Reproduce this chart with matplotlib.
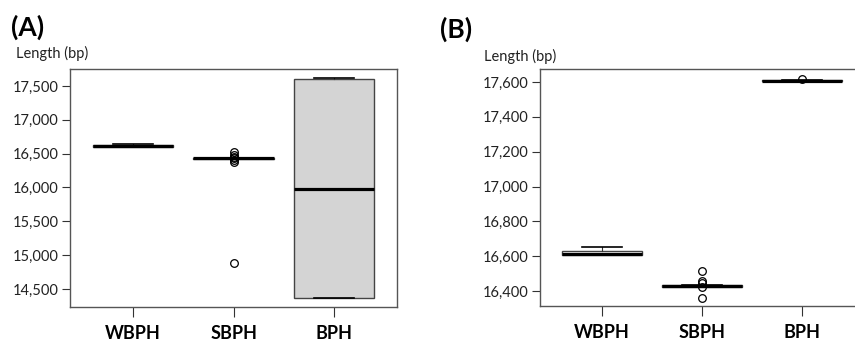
import matplotlib.pyplot as plt

plt.rcParams['font.family'] = ['Lato', 'DejaVu Sans']

groups = ['WBPH', 'SBPH', 'BPH']

# panel A: box statistics (bp)
a_med = [16615, 16430, 15980]
a_q1 = [16605, 16422, 14370]
a_q3 = [16625, 16432, 17605]
a_lo = [16605, 16422, 14370]
a_hi = [16645, 16432, 17615]
a_fliers = [[], [16525, 16480, 16450, 16430, 16400, 16375, 14885], []]
a_ticks = [14500, 15000, 15500, 16000, 16500, 17000, 17500]

# panel B
b_med = [16612, 16429, 17606]
b_q1 = [16608, 16425, 17604]
b_q3 = [16632, 16432, 17609]
b_lo = [16608, 16425, 17604]
b_hi = [16655, 16432, 17609]
b_fliers = [[], [16515, 16457, 16446, 16423, 16360], [17617]]
b_ticks = [16400, 16600, 16800, 17000, 17200, 17400, 17600]


def make_stats(med, q1, q3, lo, hi, fliers):
    stats = []
    for i in range(len(med)):
        stats.append({'med': med[i], 'q1': q1[i], 'q3': q3[i],
                      'whislo': lo[i], 'whishi': hi[i], 'fliers': fliers[i]})
    return stats


def draw_panel(ax, stats, faces, ticks, ylim, xlim):
    bp = ax.bxp(stats, positions=[1, 2, 3], widths=0.8, patch_artist=True,
                showfliers=True,
                boxprops=dict(edgecolor='#444444', linewidth=1.0),
                medianprops=dict(color='black', linewidth=2.3, solid_capstyle='butt'),
                whiskerprops=dict(color='#333333', linewidth=0.8),
                capprops=dict(color='black', linewidth=1.2),
                flierprops=dict(marker='o', markersize=5.5, markerfacecolor='none',
                                markeredgecolor='black', markeredgewidth=0.9))
    for patch, fc in zip(bp['boxes'], faces):
        patch.set_facecolor(fc)
    ax.set_xlim(*xlim)
    ax.set_ylim(*ylim)
    ax.set_yticks(ticks)
    ax.set_yticklabels([f'{t:,}' for t in ticks], fontsize=10.5, color='#222222')
    ax.set_xticks([1, 2, 3])
    ax.set_xticklabels(groups, fontsize=13, fontweight='bold')
    ax.tick_params(axis='y', length=6, width=0.8, color='#333333', pad=2)
    ax.tick_params(axis='x', length=7, width=0.8, color='#333333', pad=6)
    for s in ax.spines.values():
        s.set_color('#555555')
        s.set_linewidth(1.0)


fig = plt.figure(figsize=(8.55, 3.44), dpi=100)

ax1 = fig.add_axes([0.0819, 0.1076, 0.3825, 0.6919])
draw_panel(ax1, make_stats(a_med, a_q1, a_q3, a_lo, a_hi, a_fliers),
           ['white', 'white', '#d4d4d4'], a_ticks, (14234, 17751), (0.373, 3.627))

ax2 = fig.add_axes([0.6316, 0.1105, 0.3684, 0.689])
draw_panel(ax2, make_stats(b_med, b_q1, b_q3, b_lo, b_hi, b_fliers),
           ['white', 'white', 'white'], b_ticks, (16314, 17675), (0.38, 3.53))
ax2.spines['right'].set_visible(False)

fig.text(0.013, 0.92, '(A)', fontsize=19, fontweight='bold', va='center')
fig.text(0.019, 0.845, 'Length (bp)', fontsize=10.5, va='center', color='#222222')
fig.text(0.515, 0.915, '(B)', fontsize=19, fontweight='bold', va='center')
fig.text(0.566, 0.835, 'Length (bp)', fontsize=10.5, va='center', color='#222222')

fig.savefig('out.png', dpi=100)
